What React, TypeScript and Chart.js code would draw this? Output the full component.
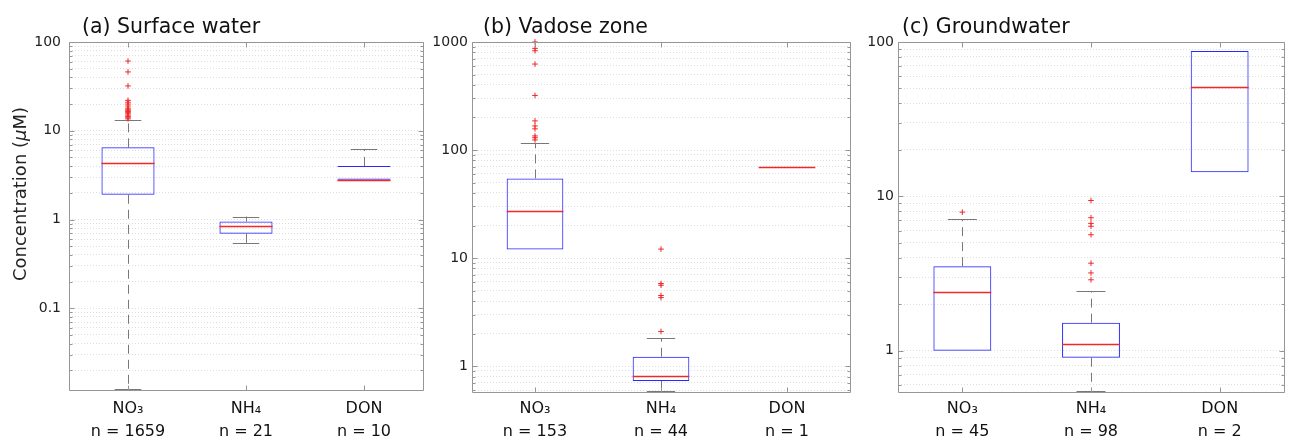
import React, { useEffect, useRef } from 'react';
import { Chart, registerables } from 'chart.js';

Chart.register(...registerables);
Chart.defaults.font.family = "'DejaVu Sans', sans-serif";

// ---------- data ----------
const categories = ['NO₃', 'NH₄', 'DON'];

// (a) Surface water
const surfaceCounts = [1659, 21, 10];
const surfaceQ1 = [1.9, 0.69, 2.8];
const surfaceMedian = [4.3, 0.855, 2.8];
const surfaceQ3 = [6.5, 0.95, 4.0];
const surfaceWhiskerLow = [0.012, 0.535, 2.8];
const surfaceWhiskerHigh = [13.1, 1.08, 6.2];
const surfaceOutliersNO3 = [61, 46, 32, 22, 21, 20, 19, 18, 17.5, 17, 16.5, 16, 15.5, 15, 14.5, 14, 13.6];
const surfaceOutliersNH4: number[] = [];
const surfaceOutliersDON: number[] = [];
const surfaceTickValues = [0.1, 1, 10, 100];
const surfaceTickLabels = ['0.1', '1', '10', '100'];
const surfaceRange = [0.012, 100];

// (b) Vadose zone
const vadoseCounts = [153, 44, 1];
const vadoseQ1 = [12, 0.727, 69];
const vadoseMedian = [27, 0.815, 69];
const vadoseQ3 = [54.6, 1.22, 69];
const vadoseWhiskerLow = [12, 0.575, 69];
const vadoseWhiskerHigh = [115, 1.81, 69];
const vadoseOutliersNO3 = [1000, 873, 830, 625, 320, 186, 167, 157, 135, 130, 124];
const vadoseOutliersNH4 = [12.1, 5.8, 5.6, 4.5, 4.3, 2.09];
const vadoseOutliersDON: number[] = [];
const vadoseTickValues = [1, 10, 100, 1000];
const vadoseTickLabels = ['1', '10', '100', '1000'];
const vadoseRange = [0.575, 1000];

// (c) Groundwater
const groundCounts = [45, 98, 2];
const groundQ1 = [1.0, 0.9, 14.3];
const groundMedian = [2.39, 1.11, 50.8];
const groundQ3 = [3.53, 1.52, 87.4];
const groundWhiskerLow = [1.0, 0.54, 14.3];
const groundWhiskerHigh = [7.1, 2.42, 87.4];
const groundOutliersNO3 = [7.9];
const groundOutliersNH4 = [9.4, 7.27, 6.68, 6.4, 5.64, 3.69, 3.19, 2.88];
const groundOutliersDON: number[] = [];
const groundTickValues = [1, 10, 100];
const groundTickLabels = ['1', '10', '100'];
const groundRange = [0.54, 100];

// ---------- styles ----------
const BLUE = 'rgb(40,40,255)';
const RED = 'rgb(240,40,40)';
const WHISKER = 'rgb(120,120,120)';
const FRAME = 'rgb(150,150,150)';
const GRID = 'rgb(222,222,222)';

type Panel = {
  id: string;
  title: string;
  counts: number[];
  q1: number[];
  median: number[];
  q3: number[];
  wLow: number[];
  wHigh: number[];
  outliers: number[][];
  tickValues: number[];
  tickLabels: string[];
  range: number[];
  boxBorder: any[];
  left: number;
  width: number;
  yAxisWidth: number;
  rightPad: number;
  xAxisHeight: number;
  yTickPad: number;
  xTickPad: number;
  titleX: number;
  yTitle: boolean;
};

const panels: Panel[] = [
  {
    id: 'a', title: '(a) Surface water', counts: surfaceCounts,
    q1: surfaceQ1, median: surfaceMedian, q3: surfaceQ3, wLow: surfaceWhiskerLow, wHigh: surfaceWhiskerHigh,
    outliers: [surfaceOutliersNO3, surfaceOutliersNH4, surfaceOutliersDON],
    tickValues: surfaceTickValues, tickLabels: surfaceTickLabels, range: surfaceRange,
    boxBorder: [1, 1, { top: 1, bottom: 1, left: 0, right: 0 }],
    left: 0, width: 430, yAxisWidth: 69, rightPad: 7, xAxisHeight: 50, yTickPad: 8, xTickPad: 8, titleX: 82, yTitle: true,
  },
  {
    id: 'b', title: '(b) Vadose zone', counts: vadoseCounts,
    q1: vadoseQ1, median: vadoseMedian, q3: vadoseQ3, wLow: vadoseWhiskerLow, wHigh: vadoseWhiskerHigh,
    outliers: [vadoseOutliersNO3, vadoseOutliersNH4, vadoseOutliersDON],
    tickValues: vadoseTickValues, tickLabels: vadoseTickLabels, range: vadoseRange,
    boxBorder: [1, 1, 1],
    left: 430, width: 426, yAxisWidth: 42, rightPad: 6, xAxisHeight: 48, yTickPad: 4, xTickPad: 6, titleX: 53, yTitle: false,
  },
  {
    id: 'c', title: '(c) Groundwater', counts: groundCounts,
    q1: groundQ1, median: groundMedian, q3: groundQ3, wLow: groundWhiskerLow, wHigh: groundWhiskerHigh,
    outliers: [groundOutliersNO3, groundOutliersNH4, groundOutliersDON],
    tickValues: groundTickValues, tickLabels: groundTickLabels, range: groundRange,
    boxBorder: [1, 1, 1],
    left: 856, width: 435, yAxisWidth: 42, rightPad: 7, xAxisHeight: 48, yTickPad: 4, xTickPad: 6, titleX: 46, yTitle: false,
  },
];

function logTicks(min: number, max: number, majors: number[]) {
  const out: { value: number; major: boolean }[] = [];
  const lo = Math.floor(Math.log10(min));
  const hi = Math.ceil(Math.log10(max));
  for (let e = lo; e <= hi; e++) {
    for (let m = 1; m <= 9; m++) {
      const v = m * Math.pow(10, e);
      if (v >= min * 0.9999 && v <= max * 1.0001) {
        out.push({ value: v, major: majors.some((t) => Math.abs(t - v) / t < 1e-6) });
      }
    }
  }
  return out;
}

function decorPlugin(p: Panel) {
  const px = (v: number) => Math.round(v) + 0.5;
  return {
    id: 'decor' + p.id,
    beforeDatasetsDraw(chart: any) {
      const ctx = chart.ctx;
      const y = chart.scales.y;
      const meta = chart.getDatasetMeta(0);
      ctx.save();
      ctx.strokeStyle = WHISKER;
      ctx.lineWidth = 1;
      for (let i = 0; i < p.q1.length; i++) {
        const bar = meta.data[i];
        const cx = px(bar.x);
        const w = bar.width;
        const yq1 = y.getPixelForValue(p.q1[i]);
        const yq3 = y.getPixelForValue(p.q3[i]);
        if (p.wHigh[i] > p.q3[i]) {
          const yh = y.getPixelForValue(p.wHigh[i]);
          ctx.setLineDash([9, 6]);
          ctx.beginPath(); ctx.moveTo(cx, yq3); ctx.lineTo(cx, yh); ctx.stroke();
          ctx.setLineDash([]);
          ctx.beginPath(); ctx.moveTo(bar.x - w / 4, px(yh)); ctx.lineTo(bar.x + w / 4, px(yh)); ctx.stroke();
        }
        if (p.wLow[i] < p.q1[i]) {
          const yl = y.getPixelForValue(p.wLow[i]);
          ctx.setLineDash([9, 6]);
          ctx.beginPath(); ctx.moveTo(cx, yq1); ctx.lineTo(cx, yl); ctx.stroke();
          ctx.setLineDash([]);
          ctx.beginPath(); ctx.moveTo(bar.x - w / 4, px(yl) - 1); ctx.lineTo(bar.x + w / 4, px(yl) - 1); ctx.stroke();
        }
      }
      ctx.restore();
    },
    afterDatasetsDraw(chart: any) {
      const ctx = chart.ctx;
      const x = chart.scales.x;
      const y = chart.scales.y;
      const area = chart.chartArea;
      const meta = chart.getDatasetMeta(0);
      ctx.save();
      // medians
      ctx.strokeStyle = RED;
      ctx.lineWidth = 1.3;
      for (let i = 0; i < p.median.length; i++) {
        const bar = meta.data[i];
        const ym = px(y.getPixelForValue(p.median[i]));
        ctx.beginPath();
        ctx.moveTo(bar.x - bar.width / 2, ym);
        ctx.lineTo(bar.x + bar.width / 2, ym);
        ctx.stroke();
      }
      // frame
      ctx.lineWidth = 1;
      const l = px(area.left), r = px(area.right), t = px(area.top), b = px(area.bottom);
      ctx.strokeStyle = FRAME;
      ctx.beginPath();
      ctx.rect(l, t, r - l, b - t);
      ctx.stroke();
      // inner ticks
      ctx.beginPath();
      for (const tk of y.ticks) {
        const yy = px(y.getPixelForValue(tk.value));
        const len = tk.major ? 5 : 3;
        ctx.moveTo(l, yy); ctx.lineTo(l + len, yy);
        ctx.moveTo(r, yy); ctx.lineTo(r - len, yy);
      }
      for (const tk of x.ticks) {
        const xx = px(x.getPixelForValue(tk.value));
        ctx.moveTo(xx, t); ctx.lineTo(xx, t + 5);
        ctx.moveTo(xx, b); ctx.lineTo(xx, b - 5);
      }
      ctx.stroke();
      ctx.restore();
    },
    afterDraw(chart: any) {
      const ctx = chart.ctx;
      ctx.save();
      ctx.fillStyle = '#111';
      ctx.textBaseline = 'alphabetic';
      ctx.textAlign = 'left';
      ctx.font = "20.5px 'DejaVu Sans'";
      ctx.fillText(p.title, p.titleX, 33);
      if (p.yTitle) {
        const parts = [
          { s: 'Concentration (', f: "18px 'DejaVu Sans'" },
          { s: 'μ', f: "italic 18px 'DejaVu Sans'" },
          { s: 'M)', f: "18px 'DejaVu Sans'" },
        ];
        let total = 0;
        for (const q of parts) { ctx.font = q.f; total += ctx.measureText(q.s).width; }
        ctx.translate(26, 194);
        ctx.rotate(-Math.PI / 2);
        let cur = -total / 2;
        ctx.fillStyle = '#222';
        for (const q of parts) {
          ctx.font = q.f;
          ctx.fillText(q.s, cur, 0);
          cur += ctx.measureText(q.s).width;
        }
      }
      ctx.restore();
    },
  };
}

function makeConfig(p: Panel): any {
  const outlierPoints: { x: number; y: number }[] = [];
  p.outliers.forEach((arr, i) => arr.forEach((v) => outlierPoints.push({ x: i, y: v })));
  const labelFor = (v: number) => {
    const idx = p.tickValues.findIndex((t) => Math.abs(t - v) / t < 1e-6);
    return idx >= 0 ? p.tickLabels[idx] : '';
  };
  return {
    type: 'bar',
    data: {
      datasets: [
        {
          type: 'bar',
          data: p.q1.map((q, i) => ({ x: i, y: [q, p.q3[i]] })),
          borderColor: BLUE,
          backgroundColor: 'rgba(0,0,0,0)',
          borderWidth: p.boxBorder,
          borderSkipped: false,
          inflateAmount: 0,
          barPercentage: 0.45,
          categoryPercentage: 1,
        },
        {
          type: 'scatter',
          data: outlierPoints,
          pointStyle: 'cross',
          pointRadius: 2.8,
          pointBorderWidth: 1,
          pointBorderColor: RED,
          borderColor: RED,
          backgroundColor: RED,
          clip: false,
        },
      ],
    },
    options: {
      responsive: false,
      animation: false,
      devicePixelRatio: 1,
      events: [],
      layout: { padding: { top: 42, right: p.rightPad, left: 0, bottom: 0 } },
      plugins: { legend: { display: false }, tooltip: { enabled: false }, title: { display: false } },
      scales: {
        x: {
          type: 'linear',
          offset: false,
          min: -0.5,
          max: 2.5,
          grid: { display: false, drawTicks: false, offset: false },
          border: { display: false },
          afterBuildTicks: (s: any) => { s.ticks = [0, 1, 2].map((v) => ({ value: v })); },
          afterFit: (s: any) => { s.height = p.xAxisHeight; },
          ticks: {
            autoSkip: false,
            maxRotation: 0,
            minRotation: 0,
            padding: p.xTickPad,
            color: '#111',
            font: { size: 16, lineHeight: 1.4 },
            callback: (v: number) => {
              const i = Math.round(v);
              return [categories[i], 'n = ' + p.counts[i]];
            },
          },
        },
        y: {
          type: 'logarithmic',
          min: p.range[0],
          max: p.range[1],
          afterBuildTicks: (s: any) => { s.ticks = logTicks(p.range[0], p.range[1], p.tickValues); },
          afterFit: (s: any) => { s.width = p.yAxisWidth; },
          grid: { color: GRID, lineWidth: 1, drawTicks: false },
          border: { display: false, dash: [1, 2] },
          ticks: {
            autoSkip: false,
            padding: p.yTickPad,
            color: '#222',
            font: { size: 14 },
            callback: (v: number) => labelFor(v),
          },
        },
      },
    },
    plugins: [decorPlugin(p)],
  };
}

function PanelChart({ spec }: { spec: Panel }) {
  const ref = useRef<HTMLCanvasElement>(null);
  useEffect(() => {
    if (!ref.current) return;
    const chart = new Chart(ref.current, makeConfig(spec));
    return () => chart.destroy();
  }, [spec]);
  return (
    <canvas
      ref={ref}
      width={spec.width}
      height={440}
      style={{ position: 'absolute', left: spec.left, top: 0, width: spec.width, height: 440 }}
    />
  );
}

export default function App() {
  return (
    <div style={{ position: 'absolute', left: 0, top: 0, width: 1291, height: 440, background: '#fff', overflow: 'hidden' }}>
      {panels.map((p) => (
        <PanelChart key={p.id} spec={p} />
      ))}
    </div>
  );
}
